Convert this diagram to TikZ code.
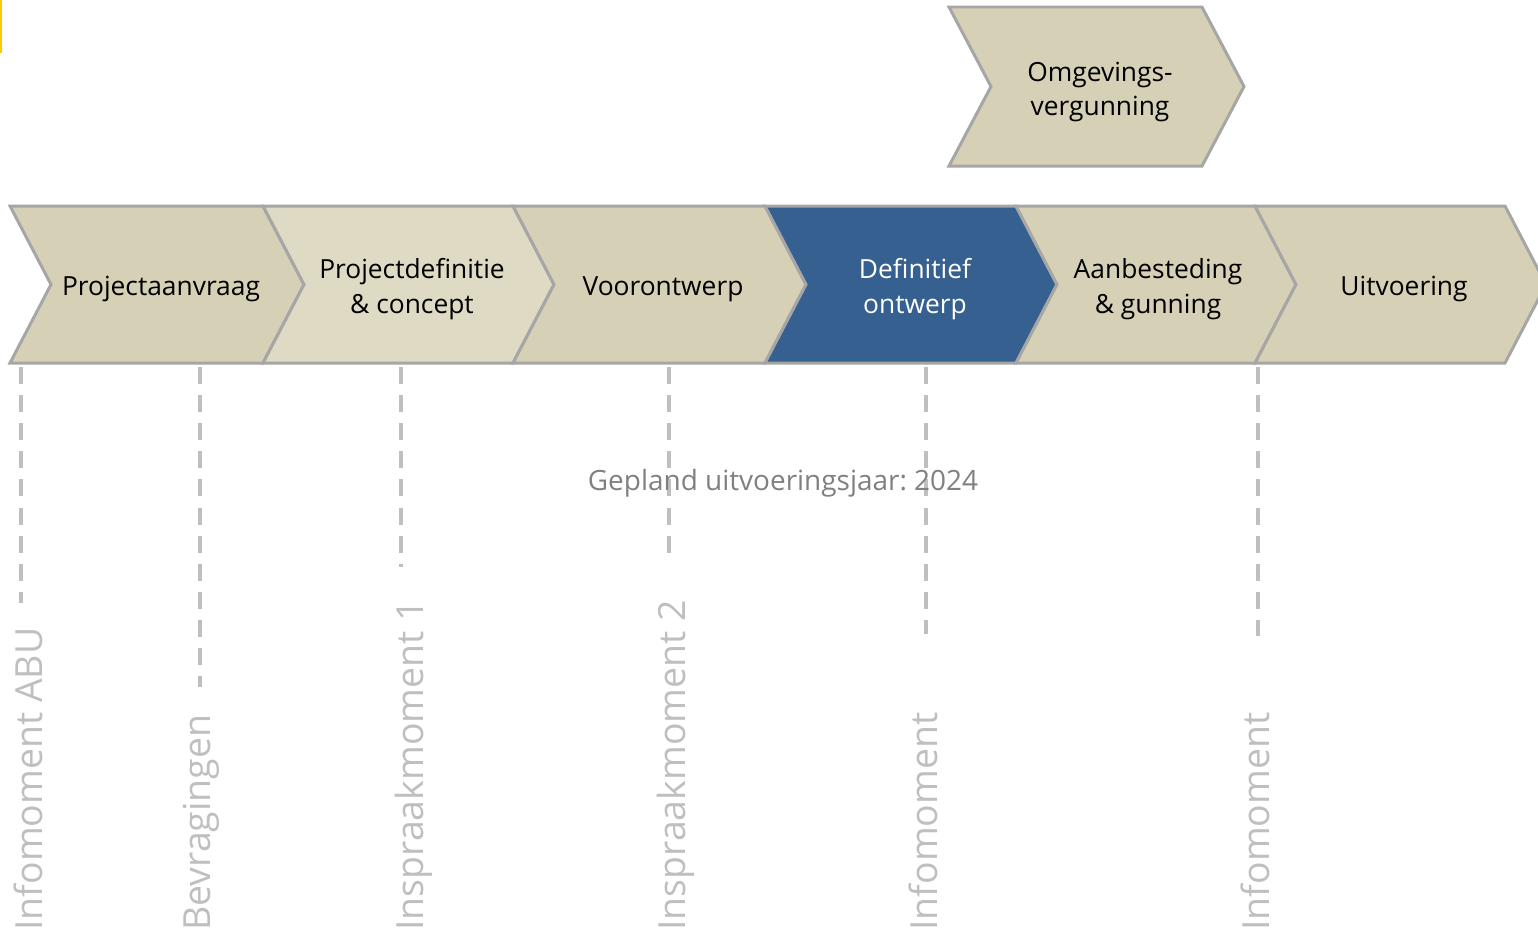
\documentclass[tikz,border=0pt]{standalone}
\usepackage{fontspec}
\setmainfont{Open Sans}
\definecolor{beige}{RGB}{213,208,182}
\definecolor{lightbeige}{RGB}{222,218,196}
\definecolor{darkblue}{RGB}{53,96,143}
\definecolor{rim}{RGB}{166,166,166}
\definecolor{markgray}{RGB}{191,191,191}
\definecolor{notegray}{RGB}{128,128,128}
\definecolor{tabyellow}{RGB}{255,204,0}
\tikzset{
  phase/.style={draw=rim, line width=1.7pt, line join=miter},
  phaselabel/.style={align=center, inner sep=0pt, font=\fontsize{15}{19.9}\selectfont},
  milestone/.style={draw=markgray, line width=2.3pt, dash pattern=on 9.7pt off 6.3pt},
  momentlabel/.style={rotate=90, anchor=base west, inner sep=0pt, text=markgray, font=\fontsize{21.3}{26}\selectfont}
}
\frenchspacing
\begin{document}
\begin{tikzpicture}[x=0.02cm, y=-0.02cm]
  \useasboundingbox (0,0) rectangle (1538,934);
  \fill[tabyellow] (0,0) rectangle (2,53);
  % chevrons
  \draw[phase, fill=beige] (949,7) -- (1202,7) -- (1244,86.5) -- (1202,166) -- (949,166) -- (991,86.5) -- cycle;
  \draw[phase, fill=beige] (10,206) -- (263,206) -- (304,284.5) -- (263,363) -- (10,363) -- (51,284.5) -- cycle;
  \draw[phase, fill=lightbeige] (263,206) -- (513,206) -- (554,284.5) -- (513,363) -- (263,363) -- (304,284.5) -- cycle;
  \draw[phase, fill=beige] (513,206) -- (765,206) -- (806,284.5) -- (765,363) -- (513,363) -- (554,284.5) -- cycle;
  \draw[phase, fill=darkblue] (765,206) -- (1016,206) -- (1057,284.5) -- (1016,363) -- (765,363) -- (806,284.5) -- cycle;
  \draw[phase, fill=beige] (1016,206) -- (1255,206) -- (1296,284.5) -- (1255,363) -- (1016,363) -- (1057,284.5) -- cycle;
  \draw[phase, fill=beige] (1255,206) -- (1505,206) -- (1546,284.5) -- (1505,363) -- (1255,363) -- (1296,284.5) -- cycle;
  \node[phaselabel] (omgeving) at (1100,92) {Omgevings-\\vergunning};
  \node[phaselabel] (aanvraag) at (161,289) {Projectaanvraag};
  \node[phaselabel] (definitie) at (412,289) {Projectdefinitie\\\& concept};
  \node[phaselabel] (voorontwerp) at (663,289) {Voorontwerp};
  \node[phaselabel, text=white] (definitief) at (915,289) {Definitief\\ontwerp};
  \node[phaselabel] (aanbesteding) at (1158,289) {Aanbesteding\\\& gunning};
  \node[phaselabel] (uitvoering) at (1404,289) {Uitvoering};
  % milestones
  \coordinate (m1) at (21,367);
  \coordinate (m2) at (200,367);
  \coordinate (m3) at (401,367);
  \coordinate (m4) at (669,367);
  \coordinate (m5) at (926,367);
  \coordinate (m6) at (1258,367);
  \coordinate (e1) at (21,603);
  \coordinate (e2) at (200,687);
  \coordinate (e3) at (401,567);
  \coordinate (e4) at (669,560);
  \coordinate (e5) at (926,634);
  \coordinate (e6) at (1258,636);
  \draw[milestone] (m1) -- (e1);
  \draw[milestone] (m2) -- (e2);
  \draw[milestone] (m3) -- (e3);
  \draw[milestone] (m4) -- (e4);
  \draw[milestone] (m5) -- (e5);
  \draw[milestone] (m6) -- (e6);
  \node[phaselabel, text=notegray, font=\fontsize{15.9}{19.9}\selectfont] (jaar) at (783,483) {Gepland uitvoeringsjaar: 2024};
  \node[momentlabel] (abu) at (42,931) {Infomoment ABU};
  \node[momentlabel] (bevraging) at (210,931) {Bevragingen};
  \node[momentlabel] (inspraak1) at (423,931) {Inspraakmoment 1};
  \node[momentlabel] (inspraak2) at (685,931) {Inspraakmoment 2};
  \node[momentlabel] (info1) at (937,931) {Infomoment};
  \node[momentlabel] (info2) at (1269,931) {Infomoment};
\end{tikzpicture}
\end{document}
